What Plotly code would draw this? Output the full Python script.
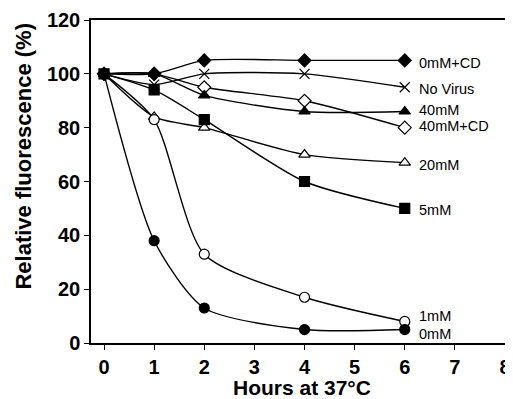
import plotly.graph_objects as go

hours = [0, 1, 2, 4, 6]
series_names = ["0mM+CD", "No Virus", "40mM", "40mM+CD", "20mM", "5mM", "1mM", "0mM"]
v_0mM_CD = [100, 100, 105, 105, 105]
v_no_virus = [100, 96, 100, 100, 95]
v_40mM = [100, 100, 92, 86, 86]
v_40mM_CD = [100, 100, 95, 90, 80]
v_20mM = [100, 84, 80, 70, 67]
v_5mM = [100, 94, 83, 60, 50]
v_1mM = [100, 83, 33, 17, 8]
v_0mM = [100, 38, 13, 5, 5]
label_y = [104, 94.5, 86.5, 80.5, 66, 49.5, 10, 3.5]
x_ticks = [0, 1, 2, 3, 4, 5, 6, 7, 8]
y_ticks = [0, 20, 40, 60, 80, 100, 120]

values = [v_0mM_CD, v_no_virus, v_40mM, v_40mM_CD, v_20mM, v_5mM, v_1mM, v_0mM]
symbols = ["diamond", "x-thin", "triangle-up", "diamond", "triangle-up",
           "square", "circle", "circle"]
fills = ["black", "black", "black", "white", "white", "black", "white", "black"]
draw_order = [3, 0, 1, 2, 4, 6, 5, 7]

fig = go.Figure()
for i in draw_order:
    fig.add_trace(go.Scatter(
        x=hours, y=values[i], name=series_names[i], mode="lines+markers",
        line=dict(color="black", width=1.4, shape="spline", smoothing=0.7),
        marker=dict(symbol=symbols[i], size=10, color=fills[i],
                    line=dict(color="black", width=1.2)),
        cliponaxis=False, showlegend=False,
    ))

for name, ly in zip(series_names, label_y):
    fig.add_annotation(x=6.25, y=ly, text=name, showarrow=False, xanchor="left",
                       yanchor="middle", font=dict(family="Liberation Sans, Arial", size=14.5, color="black"))

fig.add_annotation(xref="paper", yref="paper", x=-0.162, y=0.58, text="<b>Relative fluorescence (%)</b>",
                   textangle=-90, showarrow=False, xanchor="center", yanchor="middle",
                   font=dict(family="Liberation Sans, Arial", size=22, color="black"))
fig.add_annotation(xref="paper", yref="paper", x=0.51, y=-0.139, text="<b>Hours at 37°C</b>",
                   showarrow=False, xanchor="center", yanchor="middle",
                   font=dict(family="Liberation Sans, Arial", size=21, color="black"))

# page body has an 8px default margin; figure sized to fill the remaining window
fig.update_layout(
    width=505, height=391,
    margin=dict(l=83, r=8, t=12, b=56),
    paper_bgcolor="white", plot_bgcolor="white",
    font=dict(family="Liberation Sans, Arial", color="black"),
)
fig.update_xaxes(
    range=[-0.26, 8], tickvals=x_ticks, ticks="outside", ticklen=5, tickcolor="black",
    showline=True, linecolor="black", linewidth=1.5, mirror=True, showgrid=False, zeroline=False,
    tickfont=dict(size=20, family="Liberation Sans, Arial", weight="bold"), automargin=False,
)
fig.update_yaxes(
    range=[0, 120], tickvals=y_ticks, ticks="outside", ticklen=5, tickcolor="black",
    showline=True, linecolor="black", linewidth=1.5, mirror=True, showgrid=False, zeroline=False,
    tickfont=dict(size=20, family="Liberation Sans, Arial", weight="bold"), automargin=False,
)
fig.write_html("out.html")
